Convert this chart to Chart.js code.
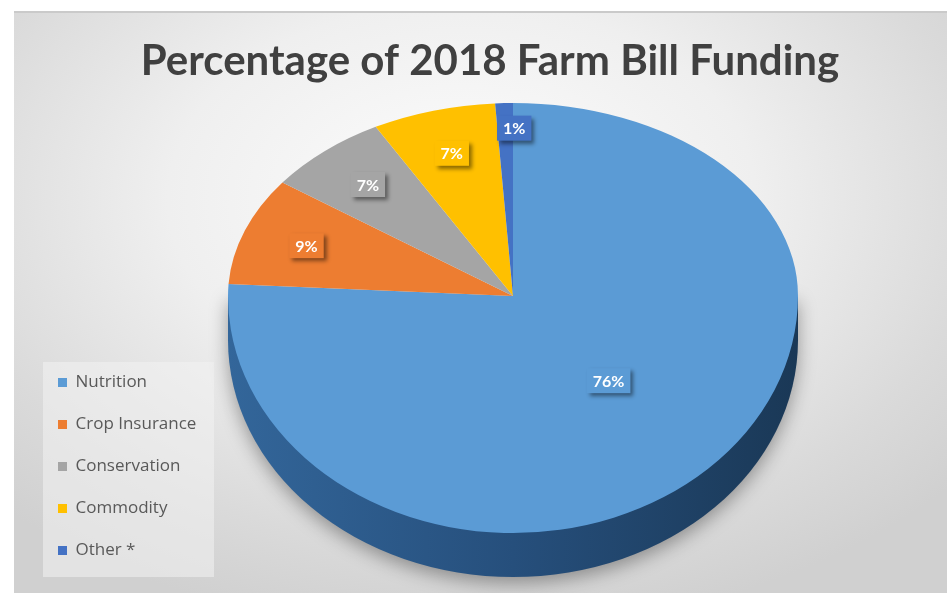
<!DOCTYPE html>
<html>
<head>
<meta charset="utf-8">
<script src="https://cdn.jsdelivr.net/npm/chart.js@4.4.1/dist/chart.umd.min.js"></script>
<style>
  body { margin: 0; background: #fff; }
  #wrap { position: relative; width: 947px; height: 593px; overflow: hidden; }
  #frame { position: absolute; left: 14px; top: 11px; right: 0; bottom: 0;
    background: radial-gradient(ellipse 70% 75% at 48% 32%, #fdfdfd 0%, #efefef 45%, #dadada 80%, #d0d0d0 100%);
    border-top: 2px solid #cacaca; }
  #legendBack { position: absolute; left: 43px; top: 362px; width: 171px; height: 215px; background: rgba(242,242,242,0.55); }
  canvas { position: absolute; left: 0; top: 0; }
</style>
</head>
<body>
<div id="wrap">
  <div id="frame"></div>
  <div id="legendBack"></div>
  <canvas id="pie" width="947" height="593"></canvas>
</div>
<script>
const categories = ['Nutrition', 'Crop Insurance', 'Conservation', 'Commodity', 'Other *'];
const shares = [76, 9, 7, 7, 1];
const sliceColors = ['#5b9bd5', '#ed7d31', '#a5a5a5', '#ffc000', '#4472c4'];

// where the tilted pie sits in the picture (top face is two half ellipses, fake perspective)
const pieX = 513, pieY = 296, radX = 285, radTop = 193, radBottom = 237, depth = 44;

const tilted = {
  id: 'tilted',
  beforeDatasetsDraw(chart) {
    const ctx = chart.ctx;
    const arcs = chart.getDatasetMeta(0).data;
    const c = arcs[0];
    const r = c.outerRadius;

    // side of the disc, with a soft shadow under it
    ctx.save();
    const side = ctx.createLinearGradient(pieX - radX, 0, pieX + radX, 0);
    side.addColorStop(0, '#33669a');
    side.addColorStop(0.5, '#264f7c');
    side.addColorStop(1, '#1a3856');
    ctx.fillStyle = side;
    ctx.shadowColor = 'rgba(0,0,0,0.35)';
    ctx.shadowBlur = 18;
    ctx.shadowOffsetY = 6;
    ctx.beginPath();
    ctx.moveTo(pieX - radX, pieY);
    ctx.lineTo(pieX + radX, pieY);
    ctx.ellipse(pieX, pieY + depth, radX, radBottom, 0, 0, Math.PI);
    ctx.closePath();
    ctx.fill();
    ctx.restore();

    // top face: library arcs, squashed differently above and below the centre
    [[radTop, 0, pieY + 1], [radBottom, pieY, chart.height]].forEach(([ry, y0, y1]) => {
      ctx.save();
      ctx.beginPath();
      ctx.rect(0, y0, chart.width, y1 - y0);
      ctx.clip();
      ctx.translate(pieX, pieY);
      ctx.scale(radX / r, ry / r);
      ctx.translate(-c.x, -c.y);
      arcs.forEach(a => a.draw(ctx));
      ctx.restore();
    });

    // percentage labels in little shadowed boxes
    ctx.save();
    ctx.font = 'bold 16px Lato';
    ctx.textAlign = 'center';
    ctx.textBaseline = 'middle';
    arcs.forEach((a, i) => {
      const mid = (a.startAngle + a.endAngle) / 2;
      const f = shares[i] > 50 ? 0.49 : (shares[i] < 3 ? 0.87 : 0.77);
      const s = Math.sin(mid);
      const lx = pieX + radX * f * Math.cos(mid) + (shares[i] < 3 ? 9 : 0);
      const ly = pieY + (s < 0 ? radTop : radBottom) * f * s;
      const text = shares[i] + '%';
      const w = ctx.measureText(text).width + 12, h = 25;
      ctx.shadowColor = 'rgba(0,0,0,0.45)';
      ctx.shadowBlur = 4;
      ctx.shadowOffsetX = 3;
      ctx.shadowOffsetY = 3;
      ctx.fillStyle = sliceColors[i];
      ctx.fillRect(lx - w / 2, ly - h / 2, w, h);
      ctx.shadowColor = 'transparent';
      ctx.fillStyle = '#fff';
      ctx.fillText(text, lx, ly + 1);
    });
    ctx.restore();
    return false;
  }
};

new Chart(document.getElementById('pie'), {
  type: 'pie',
  data: {
    labels: categories,
    datasets: [{
      data: shares,
      backgroundColor: sliceColors,
      borderWidth: 0
    }]
  },
  plugins: [tilted],
  options: {
    responsive: false,
    animation: false,
    layout: { padding: { left: 33, right: 0, top: 0, bottom: 9 } },
    plugins: {
      title: {
        display: true,
        text: 'Percentage of 2018 Farm Bill Funding',
        color: '#404040',
        font: { family: 'Lato, sans-serif', size: 42, weight: 'bold' },
        padding: { top: 36, bottom: 10 }
      },
      legend: {
        position: 'left',
        align: 'end',
        labels: {
          boxWidth: 9,
          boxHeight: 9,
          padding: 25,
          color: '#595959',
          font: { family: "'Open Sans'", size: 17 }
        }
      },
      tooltip: { enabled: false }
    }
  }
});
</script>
</body>
</html>
